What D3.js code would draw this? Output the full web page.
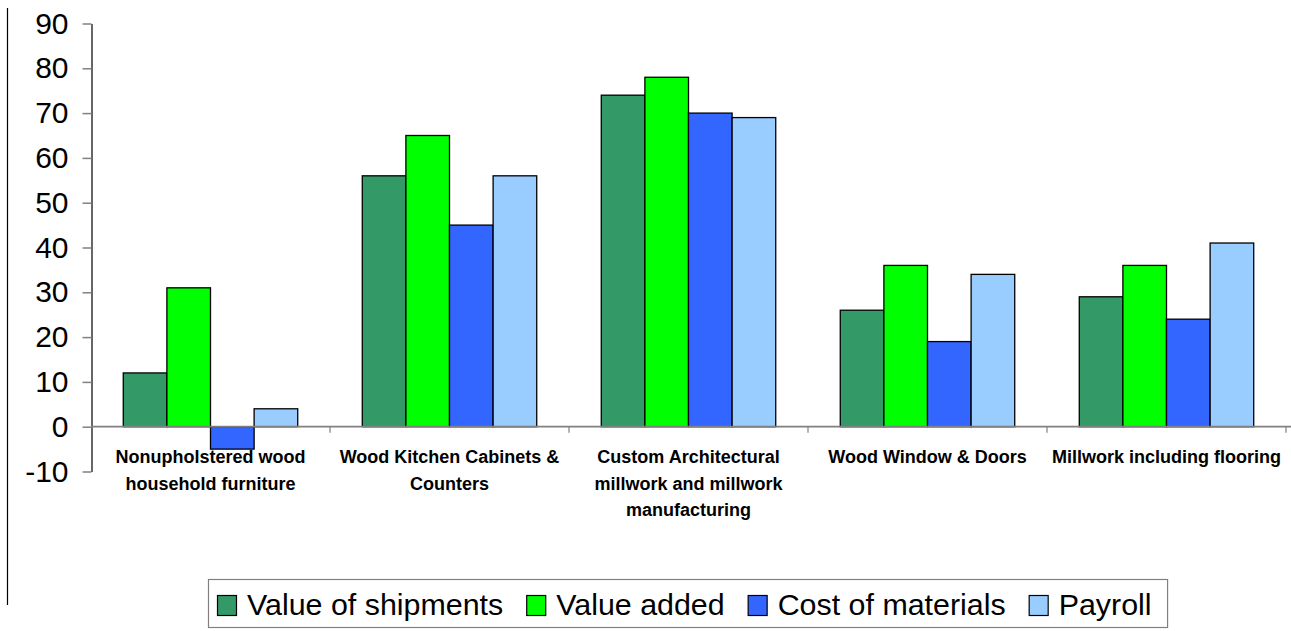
<!DOCTYPE html>
<html>
<head>
<meta charset="utf-8">
<script src="https://cdn.jsdelivr.net/npm/d3@7"></script>
<style>
  html, body { margin: 0; padding: 0; background: #fff; }
  svg { display: block; font-family: "Liberation Sans", Arial, sans-serif; }
</style>
</head>
<body>
<svg id="chart" width="1291" height="631"></svg>
<script>
// Industry groups (line breaks mark where the axis label wraps)
const categories = [
  "Nonupholstered wood\nhousehold furniture",
  "Wood Kitchen Cabinets &\nCounters",
  "Custom Architectural\nmillwork and millwork\nmanufacturing",
  "Wood Window & Doors",
  "Millwork including flooring"
];
const seriesNames = ["Value of shipments", "Value added", "Cost of materials", "Payroll"];
const valueOfShipments = [12, 56, 74, 26, 29];
const valueAdded       = [31, 65, 78, 36, 36];
const costOfMaterials  = [-5, 45, 70, 19, 24];
const payroll          = [4, 56, 69, 34, 41];
const yTicks = [-10, 0, 10, 20, 30, 40, 50, 60, 70, 80, 90];
const colors = ["#339966", "#00FF00", "#3366FF", "#99CCFF"];

const seriesValues = [valueOfShipments, valueAdded, costOfMaterials, payroll];

const svg = d3.select("#chart");

const x0 = d3.scaleBand().domain(d3.range(categories.length)).range([91, 1286]).paddingInner(0).paddingOuter(0);
const x1 = d3.scaleBand().domain(seriesNames).range([0, x0.bandwidth()]).paddingInner(0).paddingOuter(0.74);
const y = d3.scaleLinear().domain([-10, 90]).range([471.5, 23.5]);
const color = d3.scaleOrdinal().domain(seriesNames).range(colors);

// frame line on the left
svg.append("line")
  .attr("x1", 7.5).attr("x2", 7.5).attr("y1", 8).attr("y2", 605)
  .attr("stroke", "#000").attr("stroke-width", 1.2);

// bars
const groups = svg.append("g").selectAll("g")
  .data(categories.map((c, i) => ({ i, vals: seriesNames.map((s, k) => ({ s, v: seriesValues[k][i] })) })))
  .join("g")
  .attr("transform", d => `translate(${x0(d.i)},0)`);

groups.selectAll("rect")
  .data(d => d.vals)
  .join("rect")
  .attr("x", d => x1(d.s))
  .attr("width", x1.bandwidth())
  .attr("y", d => y(Math.max(0, d.v)))
  .attr("height", d => Math.abs(y(d.v) - y(0)))
  .attr("fill", d => color(d.s))
  .attr("stroke", "#000")
  .attr("stroke-width", 1.3);

// y axis (plain hyphen for negatives)
const yAxis = d3.axisLeft(y).tickValues(yTicks).tickFormat(d => String(d))
  .tickSize(9).tickPadding(14).tickSizeOuter(0);
const gy = svg.append("g").attr("transform", "translate(91.5,0)").call(yAxis);
gy.select(".domain").attr("stroke", "#000").attr("stroke-width", 1.2);
gy.selectAll(".tick line").attr("stroke", "#808080").attr("stroke-width", 1.5);
gy.selectAll(".tick text")
  .attr("font-size", 30)
  .attr("fill", "#000")
  .attr("font-family", "'Liberation Sans', Arial, sans-serif");

// zero line with category ticks
const gx = svg.append("g").attr("transform", `translate(0,${y(0)})`);
gx.append("line")
  .attr("x1", 91).attr("x2", 1291).attr("y1", 0).attr("y2", 0)
  .attr("stroke", "#808080").attr("stroke-width", 1.8);
gx.selectAll("line.ctick")
  .data(d3.range(1, categories.length + 1))
  .join("line")
  .attr("class", "ctick")
  .attr("x1", i => i < categories.length ? x0(i) : x0(i - 1) + x0.bandwidth())
  .attr("x2", i => i < categories.length ? x0(i) : x0(i - 1) + x0.bandwidth())
  .attr("y1", 0).attr("y2", 6)
  .attr("stroke", "#808080").attr("stroke-width", 1.2);

// category labels
const labels = svg.append("g").selectAll("text")
  .data(categories)
  .join("text")
  .attr("x", (d, i) => x0(i) + x0.bandwidth() / 2)
  .attr("y", 463)
  .attr("text-anchor", "middle")
  .attr("font-size", 18)
  .attr("font-weight", "bold")
  .attr("fill", "#000");
labels.each(function(d, i) {
  const t = d3.select(this);
  const cx = x0(i) + x0.bandwidth() / 2;
  d.split("\n").forEach((line, k) => {
    t.append("tspan").attr("x", cx).attr("dy", k === 0 ? 0 : 26.5).text(line);
  });
});

// legend
const legend = svg.append("g");
const legendBox = legend.append("rect")
  .attr("x", 208.5).attr("y", 579.5).attr("height", 48)
  .attr("fill", "#fff").attr("stroke", "#808080").attr("stroke-width", 1.2);
let lx = 217;
seriesNames.forEach((s, k) => {
  legend.append("rect")
    .attr("x", lx + 0.5).attr("y", 595.5).attr("width", 19).attr("height", 20)
    .attr("fill", color(s)).attr("stroke", "#000").attr("stroke-width", 1.2);
  const txt = legend.append("text")
    .attr("x", lx + 30).attr("y", 615)
    .attr("font-size", 30.4).attr("fill", "#000")
    .text(s);
  lx = lx + 30 + txt.node().getComputedTextLength() + 23;
});
legendBox.attr("width", lx - 23 + 16 - 208.5);
</script>
</body>
</html>
